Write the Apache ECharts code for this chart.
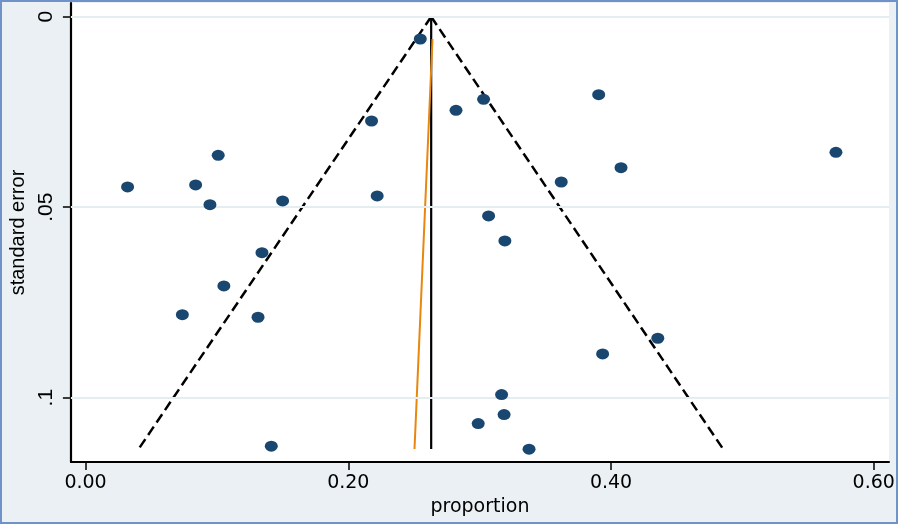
<!DOCTYPE html>
<html>
<head>
<meta charset="utf-8">
<script src="https://cdn.jsdelivr.net/npm/echarts@6/dist/echarts.min.js"></script>
<style>
html,body{margin:0;padding:0;background:#eaf0f3;}
#chart{width:898px;height:524px;}
</style>
</head>
<body>
<div id="chart"></div>
<script>
// study proportions and their standard errors
const proportion = [0.2548,0.3906,0.3030,0.2820,0.2177,0.5712,0.1010,0.4076,0.0320,0.0838,
  0.3621,0.2220,0.1500,0.0947,0.3068,0.3192,0.1343,0.1053,0.0737,0.1313,
  0.4356,0.3936,0.3167,0.3186,0.2989,0.1414,0.3376];
const stdError = [0.00585,0.02047,0.02168,0.02457,0.02738,0.03559,0.03638,0.03963,0.04470,0.04417,
  0.04339,0.04706,0.04837,0.04934,0.05231,0.05887,0.06194,0.07068,0.07822,0.07890,
  0.08441,0.08853,0.09921,0.10446,0.10682,0.11276,0.11354];

// pseudo 95% confidence limits (endpoints) and pooled estimate
const funnelLeft  = [[0.2631, 0], [0.0404, 0.1135]];
const funnelRight = [[0.2631, 0], [0.4853, 0.1135]];
const pooledLine  = [[0.2631, 0], [0.2631, 0.1135]];
const eggerLine   = [[0.2641, 0.00585], [0.2504, 0.1135]];

// axis ticks
const xTickValues = [0, 0.2, 0.4, 0.6];
const xTickLabels = ['0.00', '0.20', '0.40', '0.60'];
const yTickValues = [0, 0.05, 0.1];
const yTickLabels = ['0', '.05', '.1'];

const points = proportion.map((p, i) => [p, stdError[i]]);
const labelOf = (vals, labs) => v => {
  const i = vals.findIndex(t => Math.abs(t - v) < 1e-9);
  return i >= 0 ? labs[i] : '';
};

const chart = echarts.init(document.getElementById('chart'), null, {renderer: 'canvas'});
chart.setOption({
  animation: false,
  backgroundColor: '#eaf0f3',
  grid: {left: 68, right: 9, top: 3, bottom: 62, show: true, backgroundColor: '#ffffff', borderWidth: 0},
  xAxis: {
    type: 'value', min: -0.01114, max: 0.61159,
    name: 'proportion', nameLocation: 'middle', nameGap: 31,
    nameTextStyle: {fontFamily: 'DejaVu Sans', fontSize: 19, color: '#000'},
    axisLine: {show: true, onZero: false, lineStyle: {color: '#000', width: 2}},
    axisTick: {show: true, length: 8, customValues: xTickValues, lineStyle: {color: '#000', width: 1.5}},
    axisLabel: {customValues: xTickValues, formatter: labelOf(xTickValues, xTickLabels), margin: 12,
      fontFamily: 'DejaVu Sans', fontSize: 19, color: '#000'},
    splitLine: {show: false}
  },
  yAxis: {
    type: 'value', inverse: true, min: -0.0036, max: 0.1169,
    name: 'standard error', nameLocation: 'middle', nameGap: 42, nameRotate: 90,
    nameTextStyle: {fontFamily: 'Liberation Sans', fontSize: 20, color: '#000'},
    axisLine: {show: true, onZero: false, lineStyle: {color: '#000', width: 2.2}},
    axisTick: {show: true, length: 8, customValues: yTickValues, lineStyle: {color: '#000', width: 1.5}},
    axisLabel: {customValues: yTickValues, formatter: labelOf(yTickValues, yTickLabels), rotate: 90, margin: 14,
      fontFamily: 'Liberation Sans', fontSize: 21, color: '#000'},
    splitLine: {show: false}
  },
  graphic: [{
    type: 'rect', z: 100, silent: true,
    shape: {x: 1, y: 1, width: 896, height: 522},
    style: {fill: 'none', stroke: '#6f93c9', lineWidth: 2}
  }],
  series: [
    {
      type: 'line', data: [], z: 1, silent: true,
      markLine: {
        silent: true, symbol: 'none', label: {show: false},
        lineStyle: {color: '#e4edf0', width: 2, type: 'solid'},
        data: yTickValues.map(v => ({yAxis: v}))
      }
    },
    {type: 'line', data: funnelLeft, symbol: 'none', z: 3,
      lineStyle: {color: '#000', width: 2.5, type: [10, 5]}},
    {type: 'line', data: funnelRight, symbol: 'none', z: 3,
      lineStyle: {color: '#000', width: 2.5, type: [10, 5]}},
    {type: 'line', data: pooledLine, symbol: 'none', z: 3,
      lineStyle: {color: '#000', width: 2.2}},
    {type: 'line', data: eggerLine, symbol: 'none', z: 3,
      lineStyle: {color: '#e8870e', width: 2}},
    {type: 'scatter', data: points, symbol: 'circle', symbolSize: [13, 11], z: 5,
      itemStyle: {color: '#1a476f', opacity: 1}}
  ]
});
</script>
</body>
</html>
